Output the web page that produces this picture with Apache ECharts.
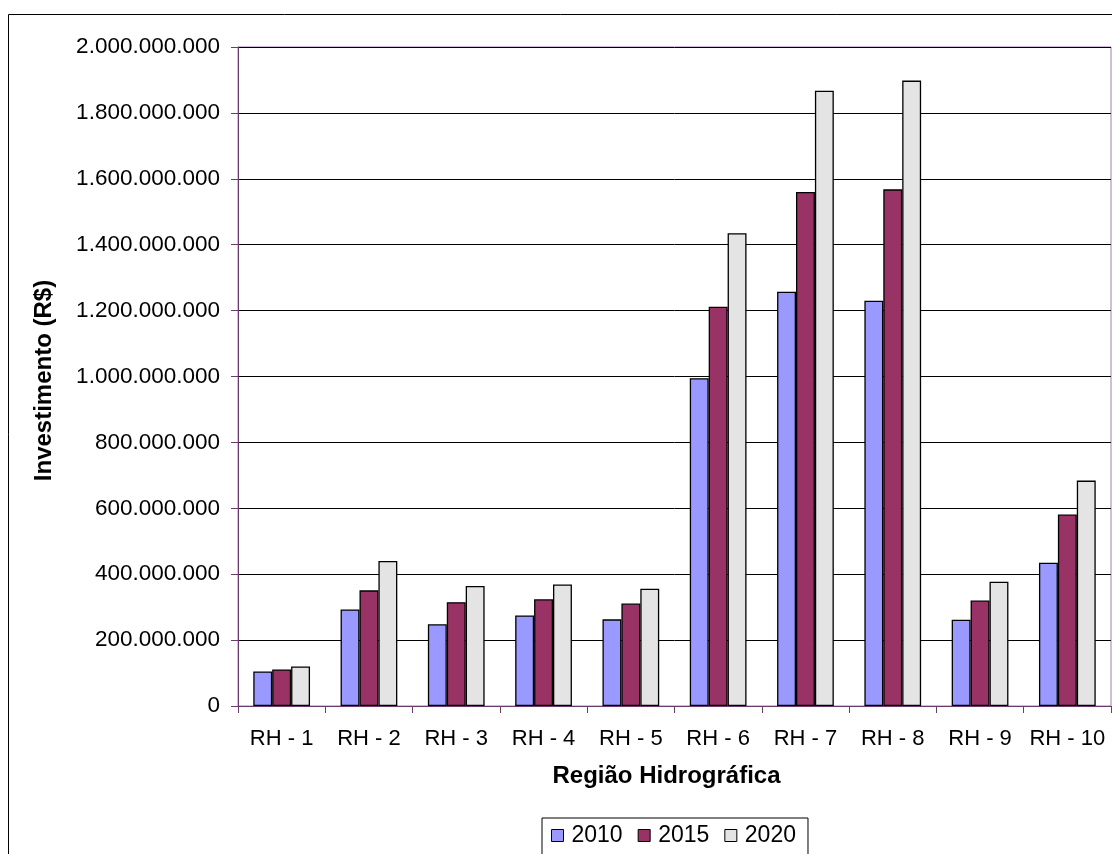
<!DOCTYPE html>
<html>
<head>
<meta charset="utf-8">
<script src="https://cdn.jsdelivr.net/npm/echarts@6/dist/echarts.min.js"></script>
<style>
html,body{margin:0;padding:0;background:#fff;}
#chart{width:1112px;height:854px;}
</style>
</head>
<body>
<div id="chart"></div>
<script>
var categories = ['RH - 1','RH - 2','RH - 3','RH - 4','RH - 5','RH - 6','RH - 7','RH - 8','RH - 9','RH - 10'];
var seriesNames = ['2010','2015','2020'];
var values2010 = [105000000, 293000000, 248000000, 275000000, 263000000, 995000000, 1257000000, 1230000000, 262000000, 435000000];
var values2015 = [111000000, 351000000, 315000000, 324000000, 311000000, 1212000000, 1560000000, 1568000000, 320000000, 581000000];
var values2020 = [120000000, 440000000, 364000000, 369000000, 356000000, 1435000000, 1867000000, 1898000000, 377000000, 684000000];
var yTicks = [0, 200000000, 400000000, 600000000, 800000000, 1000000000, 1200000000, 1400000000, 1600000000, 1800000000, 2000000000];

var colors = ['#9999FF', '#993366', '#E4E4E4'];
var font = 'Arial, "Liberation Sans", sans-serif';

function fmt(v) {
  return String(Math.round(v)).replace(/\B(?=(\d{3})+(?!\d))/g, '.');
}

var chart = echarts.init(document.getElementById('chart'), null, {renderer: 'canvas'});
var allValues = [values2010, values2015, values2020];
var series = seriesNames.map(function (name, i) {
  return {
    name: name,
    type: 'bar',
    data: allValues[i],
    barGap: '0%',
    barCategoryGap: '35%',
    itemStyle: {color: colors[i], borderColor: '#000', borderWidth: 1.3},
    emphasis: {disabled: true},
    animation: false
  };
});

chart.setOption({
  animation: false,
  textStyle: {fontFamily: font},
  graphic: [{
    type: 'rect',
    shape: {x: 8.5, y: 14.5, width: 1200, height: 1000},
    style: {fill: 'none', stroke: '#000', lineWidth: 1},
    z: -10, silent: true
  }],
  grid: {
    left: 238, right: 1, top: 47, bottom: 148,
    show: true, borderColor: '#A77BB3', borderWidth: 1, backgroundColor: 'transparent'
  },
  legend: {
    left: 542, top: 818,
    data: seriesNames,
    icon: 'rect',
    itemWidth: 12, itemHeight: 12,
    itemGap: 15,
    padding: [6, 12, 14, 9],
    borderColor: '#000', borderWidth: 1,
    backgroundColor: '#fff',
    itemStyle: {borderColor: '#000', borderWidth: 1},
    textStyle: {fontSize: 23, color: '#000', fontFamily: font, padding: [0, 0, 0, 3]}
  },
  xAxis: {
    type: 'category',
    data: categories,
    name: 'Região Hidrográfica',
    nameLocation: 'middle',
    nameGap: 58,
    nameTextStyle: {fontSize: 24, fontWeight: 'bold', color: '#000', fontFamily: font, padding: [0, 16, 0, 0]},
    axisLine: {lineStyle: {color: '#6b3b6b', width: 1}},
    axisTick: {show: true, length: 7, lineStyle: {color: '#6b3b6b'}},
    axisLabel: {fontSize: 22, color: '#000', margin: 22, fontFamily: font, interval: 0},
    splitLine: {show: false}
  },
  yAxis: {
    type: 'value',
    min: 0, max: 2000000000, interval: 200000000,
    name: 'Investimento (R$)',
    nameLocation: 'middle',
    nameGap: 182,
    nameTextStyle: {fontSize: 24, fontWeight: 'bold', color: '#000', fontFamily: font, padding: [0, 8, 0, 0]},
    axisLine: {show: true, lineStyle: {color: '#6b3b6b', width: 1}},
    axisTick: {show: true, length: 7, lineStyle: {color: '#6b3b6b'}},
    axisLabel: {fontSize: 22.5, color: '#000', margin: 18, fontFamily: font,
      formatter: function (v) { return yTicks.indexOf(v) >= 0 ? fmt(v) : ''; }},
    splitLine: {show: true, lineStyle: {color: '#000', width: 1}}
  },
  series: series
});
</script>
</body>
</html>
